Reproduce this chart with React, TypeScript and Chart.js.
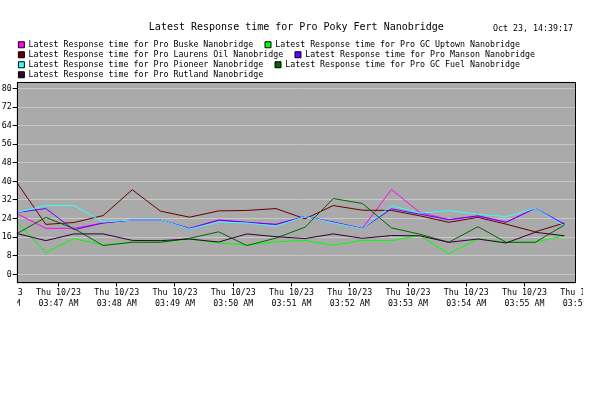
import React, { useEffect, useRef } from "react";
import { Chart, registerables } from "chart.js";

Chart.register(...registerables);

const TITLE = "Latest Response time for Pro Poky Fert Nanobridge";
const STAMP = "Oct 23, 14:39:17";
const DAY_LABEL = "Thu 10/23";
const TICK_TIMES = [
  "03:46 AM", "03:47 AM", "03:48 AM", "03:49 AM", "03:50 AM", "03:51 AM",
  "03:52 AM", "03:53 AM", "03:54 AM", "03:55 AM", "03:56 AM",
];
const Y_TICKS = [0, 8, 16, 24, 32, 40, 48, 56, 64, 72, 80];
const Y_MIN = -3.9;
const Y_MAX = 82.8;
const X_START = "03:46:17";
const X_END = "03:55:53";

const TIMES = [
  "03:46:17", "03:46:47", "03:47:16", "03:47:46", "03:48:16", "03:48:45",
  "03:49:15", "03:49:45", "03:50:14", "03:50:44", "03:51:14", "03:51:43",
  "03:52:13", "03:52:43", "03:53:12", "03:53:42", "03:54:12", "03:54:41",
  "03:55:11", "03:55:41",
];

const NAMES = [
  "Latest Response time for Pro Buske Nanobridge",
  "Latest Response time for Pro GC Uptown Nanobridge",
  "Latest Response time for Pro Laurens Oil Nanobridge",
  "Latest Response time for Pro Manson Nanobridge",
  "Latest Response time for Pro Pioneer Nanobridge",
  "Latest Response time for Pro GC Fuel Nanobridge",
  "Latest Response time for Pro Rutland Nanobridge",
];

const BUSKE = [26.2, 19.8, 19.8, 22.1, 23.4, 23.4, 19.6, 23.2, 22.4, 21.5, 24.9, 22.4, 19.8, 36.5, 26.7, 23.5, 25.0, 22.4, 28.4, 21.5];
const GC_UPTOWN = [22.6, 9.4, 15.4, 12.6, 13.8, 13.8, 15.2, 13.5, 12.6, 14.0, 14.6, 12.5, 14.6, 14.5, 16.8, 8.8, 15.3, 13.8, 13.8, 16.6];
const LAURENS = [39.6, 21.5, 22.3, 25.3, 36.4, 27.2, 24.6, 27.3, 27.5, 28.3, 23.9, 29.6, 27.6, 27.5, 25.2, 22.4, 24.5, 21.6, 18.3, 22.1];
const MANSON = [26.6, 28.3, 19.2, 22.1, 23.4, 23.4, 19.8, 23.4, 22.4, 21.5, 24.9, 22.5, 19.7, 28.2, 25.9, 23.5, 25.2, 22.4, 28.4, 21.6];
const PIONEER = [26.6, 29.6, 29.6, 22.5, 23.4, 23.4, 19.5, 22.5, 22.1, 20.7, 24.9, 22.2, 19.6, 29.6, 26.4, 27.4, 25.9, 24.8, 28.4, 20.9];
const GC_FUEL = [17.5, 24.5, 19.7, 12.4, 13.8, 13.8, 15.5, 18.3, 12.4, 15.6, 20.3, 32.6, 30.5, 20.0, 17.3, 13.8, 20.5, 13.8, 13.8, 21.2];
const RUTLAND = [17.6, 14.5, 17.4, 17.4, 14.6, 14.5, 15.2, 13.9, 17.4, 16.2, 15.4, 17.4, 15.5, 16.7, 16.6, 13.8, 15.2, 13.5, 18.1, 16.6];

const SERIES = [BUSKE, GC_UPTOWN, LAURENS, MANSON, PIONEER, GC_FUEL, RUTLAND];
const COLORS = ["#ff00ff", "#00ff00", "#660000", "#6600ff", "#33ffff", "#006600", "#330033"];

const MONO = "'DejaVu Sans Mono', 'Liberation Mono', monospace";

const toSec = (t: string) => {
  const p = t.split(":").map((s) => parseInt(s, 10));
  return p[0] * 3600 + p[1] * 60 + (p[2] || 0);
};

export default function App() {
  const ref = useRef<HTMLCanvasElement | null>(null);

  useEffect(() => {
    if (!ref.current) return;
    const xMin = toSec(X_START);
    const xMax = toSec(X_END);

    const decor = {
      id: "decor",
      beforeDraw(chart: any) {
        const { ctx, chartArea } = chart;
        ctx.save();
        ctx.fillStyle = "#ffffff";
        ctx.fillRect(0, 0, chart.width, chart.height);
        ctx.fillStyle = "#aaaaaa";
        ctx.fillRect(chartArea.left, chartArea.top, chartArea.right - chartArea.left, chartArea.bottom - chartArea.top);
        ctx.restore();
        const sc: any = chart.scales.x;
        if (sc && !sc.__clipPatched) {
          const orig = sc.drawLabels;
          sc.drawLabels = function (area: any) {
            const c = chart.ctx;
            c.save();
            c.beginPath();
            c.rect(chart.chartArea.left + 0.5, 0, chart.chartArea.right - chart.chartArea.left + 6.5, chart.height);
            c.clip();
            orig.call(this, area);
            c.restore();
          };
          sc.__clipPatched = true;
        }
      },
      afterDraw(chart: any) {
        const { ctx, chartArea } = chart;
        ctx.save();
        ctx.strokeStyle = "#000000";
        ctx.lineWidth = 1;
        const l = Math.round(chartArea.left) + 0.5;
        const t = Math.round(chartArea.top) + 0.5;
        const r = Math.round(chartArea.right) - 0.5;
        const b = Math.round(chartArea.bottom) - 0.5;
        ctx.strokeRect(l, t, r - l, b - t);
        ctx.fillStyle = "#000000";
        ctx.font = `8.3px ${MONO}`;
        ctx.textAlign = "right";
        ctx.textBaseline = "middle";
        ctx.fillText(STAMP, chartArea.right - 3, 29);
        ctx.restore();
      },
    };

    const chart = new Chart(ref.current, {
      type: "line",
      data: {
        datasets: SERIES.map((vals, k) => ({
          label: NAMES[k],
          data: vals.map((v, i) => ({ x: toSec(TIMES[i]), y: v })),
          borderColor: COLORS[k],
          backgroundColor: COLORS[k],
          borderWidth: 1,
          pointRadius: 0,
          tension: 0,
          fill: false,
          order: -k,
        })),
      },
      options: {
        animation: false,
        responsive: false,
        devicePixelRatio: 1,
        events: [],
        layout: { padding: { top: 0, left: 0.7, right: 40, bottom: 83 } },
        plugins: {
          tooltip: { enabled: false },
          title: {
            display: true,
            text: TITLE,
            color: "#000",
            fullSize: false,
            font: { family: MONO, size: 10, weight: "normal" },
            padding: { top: 21, bottom: 5.9 },
          },
          legend: {
            display: true,
            position: "top",
            align: "start",
            fullSize: false,
            maxHeight: 43,
            labels: {
              color: "#000",
              font: { family: MONO, size: 8.3 },
              boxWidth: 6,
              boxHeight: 6,
              padding: 1.7,
              sort: (a: any, b: any) => a.datasetIndex - b.datasetIndex,
              generateLabels: (c: any) =>
                (Chart.defaults.plugins.legend.labels as any)
                  .generateLabels(c)
                  .map((it: any) => ({ ...it, text: it.text + "  ", strokeStyle: "#000", lineWidth: 1 })),
            },
          },
        },
        scales: {
          x: {
            type: "linear",
            min: xMin,
            max: xMax,
            afterBuildTicks: (s: any) => {
              s.ticks = TICK_TIMES.map((t) => ({ value: toSec(t.slice(0, 5)) }));
            },
            afterFit: (s: any) => {
              s.paddingLeft = 0;
              s.paddingRight = 0;
            },
            ticks: {
              autoSkip: false,
              maxRotation: 0,
              minRotation: 0,
              color: "#000",
              padding: 1,
              font: { family: MONO, size: 8.3, lineHeight: 1.3 },
              callback: (_v: any, i: number) => [DAY_LABEL, TICK_TIMES[i]],
            },
            grid: {
              drawOnChartArea: false,
              drawTicks: true,
              tickLength: 3,
              tickColor: (c: any) =>
                c.tick && (c.tick.value < xMin || c.tick.value > xMax) ? "rgba(0,0,0,0)" : "#000",
            },
            border: { display: false },
          },
          y: {
            min: Y_MIN,
            max: Y_MAX,
            afterBuildTicks: (s: any) => {
              s.ticks = Y_TICKS.map((v) => ({ value: v }));
            },
            ticks: {
              autoSkip: false,
              color: "#000",
              padding: 1,
              font: { family: MONO, size: 8.3 },
            },
            grid: { color: "#c8c8c8", tickColor: "#000", tickLength: 4, drawTicks: true },
            border: { display: false },
          },
        },
      },
      plugins: [decor],
    } as any);

    return () => chart.destroy();
  }, []);

  return (
    <div style={{ position: "absolute", left: 0, top: 0, width: 616, height: 393, background: "#fff" }}>
      <canvas ref={ref} width={616} height={393} style={{ display: "block", width: 616, height: 393 }} />
    </div>
  );
}
